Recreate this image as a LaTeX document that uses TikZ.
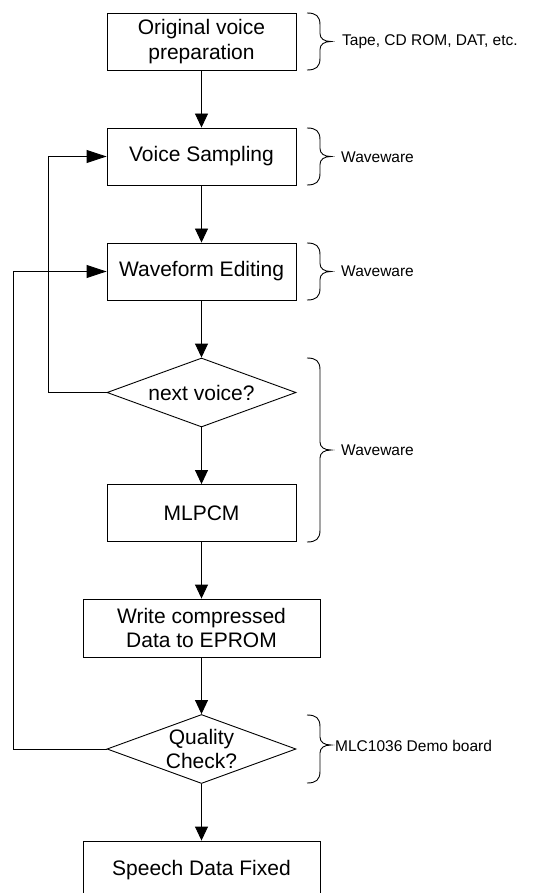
\documentclass[tikz,border=0pt]{standalone}
\usepackage{fontspec}
\setmainfont{Liberation Sans}
\usetikzlibrary{arrows.meta,shapes.geometric}
\newcommand\sidebrace[4]{% x, top, bottom, tip
  \draw[brc] (#1,#2) .. controls (#1+9,#2) and (#1+13,#2+3) .. (#1+13,#2+12)
    -- (#1+13,#4-8) .. controls (#1+13,#4-3) and (#1+17,#4) .. (#1+24,#4)
    .. controls (#1+17,#4) and (#1+13,#4+3) .. (#1+13,#4+8)
    -- (#1+13,#3-12) .. controls (#1+13,#3-3) and (#1+9,#3) .. (#1,#3);}
\tikzset{
  box/.style={draw=black, line width=0.9pt, rectangle, minimum width=189pt, minimum height=57pt, inner sep=0pt, align=center, font=\fontsize{21}{24.5}\selectfont},
  wbox/.style={box, minimum width=237pt, minimum height=58pt},
  dec/.style={draw=black, line width=0.9pt, diamond, minimum width=189pt, minimum height=69pt, inner sep=0pt},
  dtext/.style={align=center, font=\fontsize{21}{24.5}\selectfont, inner sep=0pt},
  side/.style={anchor=west, inner sep=0pt, font=\fontsize{15.5}{18}\selectfont},
  brc/.style={draw=black, line width=0.9pt},
  varr/.style={draw=black, line width=0.9pt, -{Triangle[length=14pt,width=13pt]}},
  harr/.style={draw=black, line width=0.9pt, -{Triangle[length=20pt,width=13pt]}},
}
\begin{document}
\begin{tikzpicture}[x=1pt,y=-1pt]
\useasboundingbox (0,0) rectangle (536,893);
\node[box]  (b1) at (201.5,41.5) {Original voice\\preparation};
\node[box]  (b2) at (201.5,156.5) {Voice Sampling};
\node[box]  (b3) at (201.5,271.5) {Waveform Editing};
\node[dec]  (d1) at (201.5,392.5) {};
\node[dtext] (d1t) at (201.5,392.5) {next voice?};
\node[box]  (b4) at (201.5,513) {MLPCM};
\node[wbox] (b5) at (201.5,628) {Write compressed\\Data to EPROM};
\node[dec]  (d2) at (201.5,749) {};
\node[dtext] (d2t) at (201.5,749) {Quality\\Check?};
\node[wbox] (b6) at (201.5,870) {Speech Data Fixed};

\draw[varr] (b1) -- (b2);
\draw[varr] (b2) -- (b3);
\draw[varr] (b3) -- (d1);
\draw[varr] (d1) -- (b4);
\draw[varr] (b4) -- (b5);
\draw[varr] (b5) -- (d2);
\draw[varr] (d2) -- (b6);

\coordinate (l1) at (48.5,392.5);
\coordinate (l2) at (13,749);
\draw[harr] (d1.west) -- (l1) |- (b2.west);
\draw[harr] (d2.west) -- (l2) |- (b3.west);

\sidebrace{307}{13}{70}{41.5}
\sidebrace{307}{128}{185}{156.5}
\sidebrace{307}{243}{300}{271.5}
\sidebrace{307}{358}{542}{450}
\sidebrace{307}{715}{783}{745}

\node[side] (s1) at (342,42) {Tape, CD ROM, DAT, etc.};
\node[side] (s2) at (341,157) {Waveware};
\node[side] (s3) at (341,271) {Waveware};
\node[side] (s4) at (341,450) {Waveware};
\node[side] (s5) at (335,746) {MLC1036 Demo board};
\end{tikzpicture}
\end{document}
